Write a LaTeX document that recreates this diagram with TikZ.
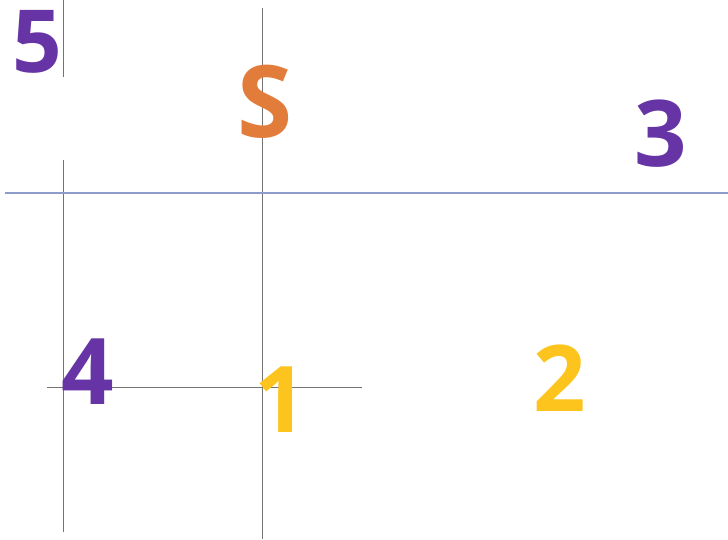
\documentclass[tikz,border=0pt]{standalone}
\usepackage{fontspec}
\newfontfamily\digfont{Open Sans}
\definecolor{qpurple}{HTML}{6634A4}
\definecolor{qorange}{HTML}{E27C3A}
\definecolor{qyellow}{HTML}{FCC41C}
\definecolor{qaxis}{HTML}{8C9CCB}
\usetikzlibrary{positioning}

\begin{document}
\begin{tikzpicture}[x=1pt,y=-1pt,
  lab/.style={inner sep=0pt,font=\digfont\bfseries\fontsize{92}{92}\selectfont},
  ln/.style={draw=black!55,line width=0.9pt},
  axis/.style={draw=qaxis,line width=1.1pt}]
  \useasboundingbox (0,0) rectangle (728,539);
  % guide lines
  \draw[ln] (63,0) -- (63,77);
  \draw[ln] (63,160) -- (63,532);
  \draw[ln] (262,8) -- (262,539);
  \draw[ln] (47,387) -- (362,387);
  \draw[axis] (5,193) -- (728,193);
  % labels
  \node[lab,text=qpurple,font=\digfont\bfseries\fontsize{87}{87}\selectfont] (n5) at (37,42) {5};
  \node[lab,text=qorange,font=\digfont\bfseries\fontsize{100}{100}\selectfont] (nS) at (265,102) {S};
  \node[lab,text=qpurple] (n3) at (661,134) {3};
  \node[lab,text=qpurple] (n4) at (88,372) {4};
  \node[lab,text=qyellow] (n1) at (281,400) {1};
  \node[lab,text=qyellow] (n2) at (560,378) {2};
\end{tikzpicture}
\end{document}
